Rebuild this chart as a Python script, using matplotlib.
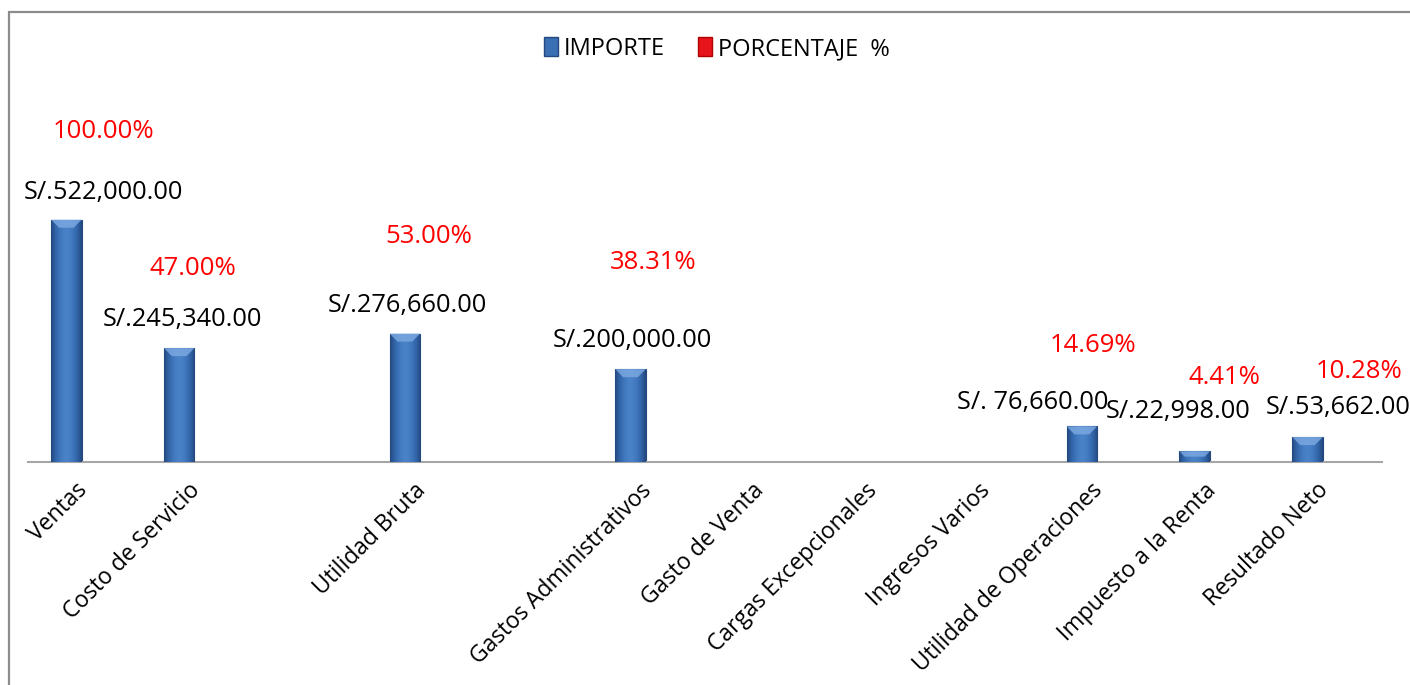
import matplotlib
matplotlib.use("Agg")
import matplotlib.pyplot as plt
import numpy as np
from matplotlib.patches import Patch, Polygon, Rectangle
from matplotlib.transforms import ScaledTranslation

plt.rcParams["font.family"] = ["Open Sans", "DejaVu Sans"]

# Category slots (blank slots are empty gaps on the axis)
categories = [
    "Ventas", "Costo de Servicio", "", "Utilidad Bruta", "",
    "Gastos Administrativos", "Gasto de Venta", "Cargas Excepcionales",
    "Ingresos Varios", "Utilidad de Operaciones", "Impuesto a la Renta",
    "Resultado Neto",
]
importe = [522000, 245340, np.nan, 276660, np.nan, 200000,
           np.nan, np.nan, np.nan, 76660, 22998, 53662]
porcentaje = [1.00, 0.47, np.nan, 0.53, np.nan, 0.3831,
              np.nan, np.nan, np.nan, 0.1469, 0.0441, 0.1028]
importe_text = ["S/.522,000.00", "S/.245,340.00", "", "S/.276,660.00", "",
                "S/.200,000.00", "", "", "", "S/. 76,660.00",
                "S/.22,998.00", "S/.53,662.00"]

# label placement (moved by hand in the original sheet)
imp_lbl_dx = [0.165, -0.135, 0, -0.14, 0, -0.145, 0, 0, 0, -0.60, -0.31, 0.11]
imp_lbl_y = [580000, 306000, 0, 338000, 0, 261000, 0, 0, 0, 129000, 108000, 118000]
pct_lbl_dx = [0.165, -0.04, 0, 0.05, 0, 0.04, 0, 0, 0, -0.06, 0.10, 0.30]
pct_lbl_y = [712000, 418000, 0, 485000, 0, 429000, 0, 0, 0, 250000, 181000, 194000]

BLUE_DARK = "#24497f"
BLUE_MID = "#4a82c8"
RED = "#e8141b"
YMAX = 780000

fig = plt.figure(figsize=(14.1, 6.85), dpi=100)
fig.add_artist(Rectangle((9 / 1410, -0.1), 1.2, 1 - 12 / 685 + 0.1,
                         transform=fig.transFigure, fill=False,
                         edgecolor="#8c8c8c", lw=1.6))

ax = fig.add_axes([28 / 1410, 1 - 462 / 685, 1354 / 1410, 362 / 685])
x = np.arange(len(categories))
w = 0.27
off = 0.16

bars = ax.bar(x - off, importe, w, color=BLUE_MID, edgecolor=BLUE_DARK,
              lw=0.8, zorder=2)
ax.bar(x + off, porcentaje, w, color=RED, edgecolor="#f2b0b0", lw=1.2, zorder=2)

# horizontal shading + top bevel on each blue bar
grad = np.linspace(-1, 1, 64)
grad = 1 - np.abs(grad) ** 1.6
cmap = matplotlib.colors.LinearSegmentedColormap.from_list(
    "bar", [BLUE_DARK, "#3468ad", BLUE_MID])
bev_x = 0.07                # bevel depth in slot units (~8 px)
bev_y = 8 / 362 * YMAX      # same depth in value units
for b in bars:
    h = b.get_height()
    if not np.isfinite(h) or h <= 0:
        continue
    x0, x1 = b.get_x(), b.get_x() + b.get_width()
    im = ax.imshow(grad[None, :], cmap=cmap, aspect="auto",
                   extent=[x0, x1, 0, h], zorder=3)
    im.set_clip_path(b)
    d = min(bev_y, h / 2)
    dx = bev_x * d / bev_y
    ax.add_patch(Polygon([(x0, h), (x1, h), (x1 - dx, h - d), (x0 + dx, h - d)],
                         closed=True, facecolor="#7aa7e0", edgecolor="none",
                         alpha=0.85, zorder=4))

for i, txt in enumerate(importe_text):
    if txt:
        ax.text(i + imp_lbl_dx[i], imp_lbl_y[i], txt, ha="center",
                va="center", fontsize=18.3, color="black", zorder=5)
    if np.isfinite(porcentaje[i]):
        ax.text(i + pct_lbl_dx[i], pct_lbl_y[i], f"{porcentaje[i] * 100:.2f}%",
                ha="center", va="center", fontsize=18.5, color="#ff0000", zorder=5)

ax.set_xlim(-0.5, len(categories) - 0.5)
ax.set_ylim(0, YMAX)
ax.set_xticks(x)
ax.set_xticklabels(categories, rotation=45, ha="right",
                   rotation_mode="anchor", fontsize=16.5)
ax.tick_params(axis="x", length=0, pad=14)
shift = ScaledTranslation(-0.09, 0.03, fig.dpi_scale_trans)
for lbl in ax.get_xticklabels():
    lbl.set_transform(lbl.get_transform() + shift)
ax.set_yticks([])
for s in ["top", "right", "left"]:
    ax.spines[s].set_visible(False)
ax.spines["bottom"].set_color("#a6a6a6")
ax.spines["bottom"].set_linewidth(1.5)
ax.set_facecolor("none")

handles = [Patch(facecolor="#3a6fb3", edgecolor=BLUE_DARK, label="IMPORTE"),
           Patch(facecolor=RED, edgecolor="#b00000", label="PORCENTAJE  %")]
fig.legend(handles=handles, loc="center", bbox_to_anchor=(717 / 1410, 1 - 49 / 685),
           ncol=2, frameon=False, fontsize=17, handlelength=0.6,
           handleheight=0.85, handletextpad=0.25, columnspacing=1.4)

fig.savefig("out.png", dpi=100)
